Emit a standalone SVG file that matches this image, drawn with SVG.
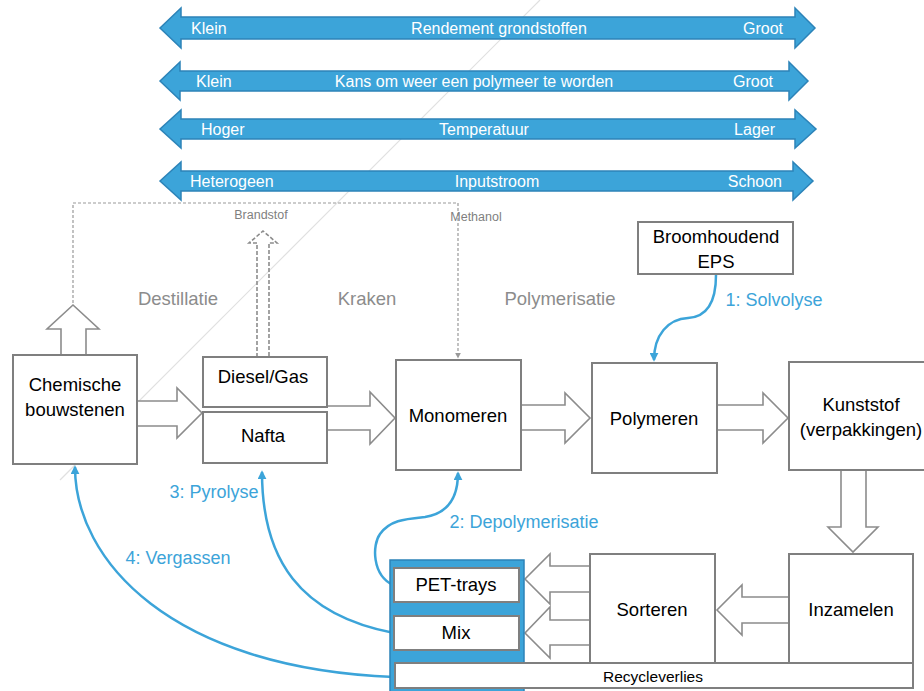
<svg xmlns="http://www.w3.org/2000/svg" width="924" height="691" viewBox="0 0 924 691">
<defs>
<style>
.box{fill:#fff;stroke:#7f7f7f;stroke-width:2}
.ha{fill:#fff;stroke:#8c8c8c;stroke-width:1.6;stroke-linejoin:miter}
.t{font-family:"Liberation Sans",Arial,sans-serif;font-size:18.5px;fill:#000;text-anchor:middle}
.g{fill:#8c8c8c}
.sm{font-size:12.5px;fill:#7f7f7f}
.bl{fill:#3ca4d9;font-size:18px}
.bar{fill:#3ca4d9;stroke:#2c83b8;stroke-width:1.5}
.bt{font-family:"Liberation Sans",Arial,sans-serif;font-size:16px;fill:#fff}
.cv{fill:none;stroke:#3ca4d9;stroke-width:2.5;marker-end:url(#bh)}
.ds{fill:none;stroke:#999;stroke-width:1.2;stroke-dasharray:3 2}
.dsa{fill:none;stroke:#8c8c8c;stroke-width:1.6;stroke-dasharray:4 2}
</style>
<marker id="bh" viewBox="0 0 10 10" refX="8" refY="5" markerWidth="3.6" markerHeight="3.6" orient="auto">
<path d="M0,0 L10,5 L0,10 z" fill="#3ca4d9"/>
</marker>
<marker id="gh" viewBox="0 0 10 10" refX="9" refY="5" markerWidth="5" markerHeight="5" orient="auto">
<path d="M0,0 L10,5 L0,10 z" fill="#999"/>
</marker>
</defs>
<rect width="924" height="691" fill="#fff"/>

<!-- faint background artefact -->
<line x1="60" y1="480" x2="540" y2="0" stroke="#e0e0e0" stroke-width="1.2"/>

<!-- scale arrows -->
<g id="scale-rendement">
<polygon class="bar" points="160,28 181,8 181,17 795,17 795,8 815,28 795,48 795,39 181,39 181,48"/>
<text class="bt" x="191" y="34">Klein</text>
<text class="bt" x="499" y="34" text-anchor="middle">Rendement grondstoffen</text>
<text class="bt" x="783" y="34" text-anchor="end">Groot</text>
</g>
<g id="scale-kans">
<polygon class="bar" points="160,81 180,62 180,71 789,71 789,62 808,81 789,100 789,91 180,91 180,100"/>
<text class="bt" x="196" y="87">Klein</text>
<text class="bt" x="474" y="87" text-anchor="middle">Kans om weer een polymeer te worden</text>
<text class="bt" x="773" y="87" text-anchor="end">Groot</text>
</g>
<g id="scale-temperatuur">
<polygon class="bar" points="160,129 181,110 181,119 795,119 795,110 816,129 795,148 795,139 181,139 181,148"/>
<text class="bt" x="201" y="135">Hoger</text>
<text class="bt" x="484" y="135" text-anchor="middle">Temperatuur</text>
<text class="bt" x="775" y="135" text-anchor="end">Lager</text>
</g>
<g id="scale-input">
<polygon class="bar" points="160,181 181,162 181,171 793,171 793,162 813,181 793,200 793,191 181,191 181,200"/>
<text class="bt" x="190" y="187">Heterogeen</text>
<text class="bt" x="497" y="187" text-anchor="middle">Inputstroom</text>
<text class="bt" x="782" y="187" text-anchor="end">Schoon</text>
</g>

<!-- connectors -->
<g id="connectors">
<path class="ds" d="M73,303 V203 H458 V358" marker-end="url(#gh)"/>
<path class="dsa" d="M257,357 V243 H249 L263,231 L277,243 H269 V357"/>
<path class="ha" d="M61,355 V329 H47 L73,305 L99,329 H86 V355"/>
<path class="ha" d="M137,401 H177 V388 L202,413 L177,438 V426 H137"/>
<path class="ha" d="M327,406 H370 V392 L395,418 L370,444 V430 H327"/>
<path class="ha" d="M521,405 H565 V393 L590,418 L565,443 V430 H521"/>
<path class="ha" d="M717,405 H763 V393 L788,418 L763,443 V430 H717"/>
<path class="ha" d="M841,470 V527 H828 L853,552 L878,527 H866 V470"/>
<path class="ha" d="M789,597 H742 V585 L717,610 L742,635 V623 H789"/>
<path class="ha" d="M590,566 H550 V554 L525,579 L550,604 V592 H590"/>
<path class="ha" d="M590,620 H550 V607 L525,633 L550,658 V645 H590"/>
<path class="cv" d="M716,275 C716,305 705,317 688,318 C668,319 654,335 654,360"/>
<path class="cv" d="M393,585 C372,575 372,545 380,534 C390,520 405,519 425,517 C450,513 458,495 458,473"/>
<path class="cv" d="M394,633 C300,615 262,560 262,472"/>
<path class="cv" d="M394,677 C170,668 75,560 75,467"/>
</g>

<!-- process labels -->
<g id="labels">
<text class="t g" x="178" y="305">Destillatie</text>
<text class="t g" x="367" y="305">Kraken</text>
<text class="t g" x="560" y="305">Polymerisatie</text>
<text class="t sm" x="261" y="219">Brandstof</text>
<text class="t sm" x="476" y="221" text-anchor="start">Methanol</text>
<text class="t bl" x="774" y="306">1: Solvolyse</text>
<text class="t bl" x="524" y="528">2: Depolymerisatie</text>
<text class="t bl" x="214" y="498">3: Pyrolyse</text>
<text class="t bl" x="178" y="564">4: Vergassen</text>
</g>

<!-- nodes -->
<g id="chemische-bouwstenen">
<rect class="box" x="13" y="355" width="124" height="109"/>
<text class="t" x="75" y="391">Chemische</text>
<text class="t" x="75" y="416">bouwstenen</text>
</g>
<g id="diesel-gas">
<rect class="box" x="203" y="357" width="124" height="50"/>
<text class="t" x="263" y="383">Diesel/Gas</text>
</g>
<g id="nafta">
<rect class="box" x="203" y="412" width="124" height="51"/>
<text class="t" x="263" y="442">Nafta</text>
</g>
<g id="monomeren">
<rect class="box" x="396" y="360" width="125" height="110"/>
<text class="t" x="458" y="422">Monomeren</text>
</g>
<g id="polymeren">
<rect class="box" x="592" y="363" width="125" height="110"/>
<text class="t" x="654" y="425">Polymeren</text>
</g>
<g id="kunststof">
<rect class="box" x="789" y="362" width="146" height="108"/>
<text class="t" x="861" y="411">Kunststof</text>
<text class="t" x="861" y="436">(verpakkingen)</text>
</g>
<g id="broomhoudend-eps">
<rect class="box" x="638" y="222" width="155" height="52"/>
<text class="t" x="716" y="243">Broomhoudend</text>
<text class="t" x="716" y="268">EPS</text>
</g>
<g id="inzamelen">
<rect class="box" x="789" y="554" width="124" height="109"/>
<text class="t" x="851" y="616">Inzamelen</text>
</g>
<g id="sorteren">
<rect class="box" x="590" y="554" width="125" height="109"/>
<text class="t" x="652" y="616">Sorteren</text>
</g>
<g id="stromen">
<rect x="390" y="560" width="134" height="135" fill="#3ca4d9" stroke="#2c83b8" stroke-width="1.5"/>
</g>
<g id="pet-trays">
<rect class="box" x="394" y="568" width="125" height="34"/>
<text class="t" x="456" y="591">PET-trays</text>
</g>
<g id="mix">
<rect class="box" x="394" y="616" width="125" height="34"/>
<text class="t" x="456" y="639">Mix</text>
</g>
<g id="recycleverlies">
<rect class="box" x="395" y="663" width="518" height="25"/>
<text class="t" x="653" y="682" style="font-size:15.5px">Recycleverlies</text>
</g>
</svg>
